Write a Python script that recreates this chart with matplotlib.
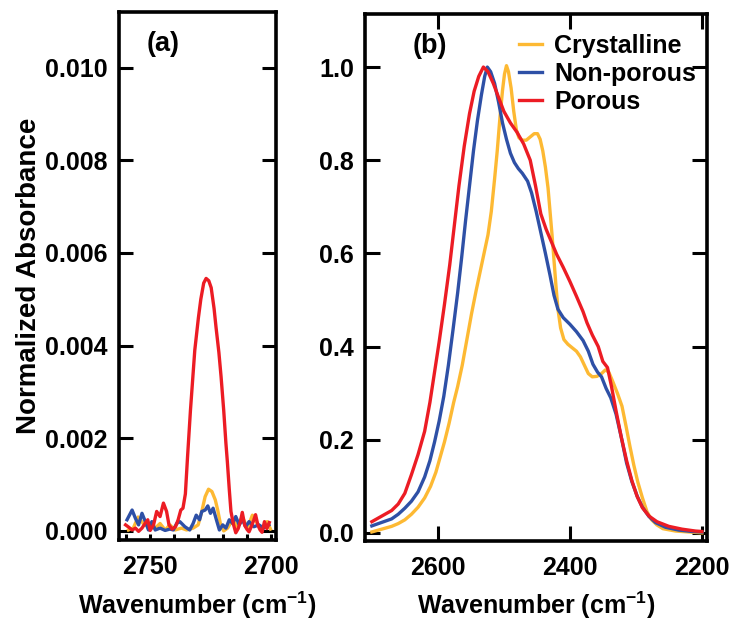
import numpy as np
import matplotlib
matplotlib.use("Agg")
import matplotlib.pyplot as plt
from matplotlib.ticker import MultipleLocator, FormatStrFormatter

plt.rcParams['font.family'] = ['Liberation Sans', 'DejaVu Sans']
plt.rcParams['font.weight'] = 'bold'
plt.rcParams['mathtext.fontset'] = 'custom'
plt.rcParams['mathtext.rm'] = 'Liberation Sans'

labels = ["Crystalline", "Non-porous", "Porous"]
colors = ["#FDB933", "#2E50A6", "#EC1C24"]

# (a) weak band near 2725 cm-1, absorbance in units of 1e-3
wn_a_cry = [2759.0, 2757.0, 2755.0, 2752.9, 2750.7, 2747.9, 2745.9, 2743.8, 2741.8,
            2739.7, 2737.0, 2734.9, 2732.2, 2730.1, 2728.6, 2727.2, 2725.8, 2724.4,
            2723.0, 2722.0, 2720.9, 2719.5, 2717.9, 2715.8, 2713.8, 2711.8, 2709.7,
            2707.6, 2705.6, 2703.6, 2701.5, 2700.1]
abs_a_cry = [0.02, 0.06, 0.30, 0.16, 0.09, 0.06, 0.16, 0.02, 0.13,
             0.02, 0.06, 0.02, 0.06, 0.13, 0.42, 0.74, 0.90, 0.85,
             0.67, 0.45, 0.16, 0.00, 0.06, 0.24, 0.09, 0.31, 0.06,
             0.34, 0.16, 0.02, 0.20, 0.04]

wn_a_non = [2759.6, 2757.5, 2756.1, 2754.8, 2753.4, 2752.0, 2750.7, 2749.3, 2747.9,
            2745.9, 2743.8, 2741.8, 2740.4, 2739.0, 2737.7, 2735.6, 2733.6, 2732.2,
            2730.9, 2729.5, 2728.6, 2727.2, 2726.1, 2725.0, 2723.9, 2722.7, 2721.3,
            2719.9, 2718.6, 2717.2, 2715.8, 2714.5, 2713.1, 2711.7, 2710.4, 2709.0,
            2707.0, 2704.9, 2702.9, 2700.8]
abs_a_non = [0.24, 0.45, 0.27, 0.13, 0.38, 0.20, 0.02, 0.20, 0.02,
             0.06, 0.01, 0.04, 0.02, 0.16, 0.20, 0.09, 0.02, 0.16,
             0.34, 0.24, 0.42, 0.45, 0.54, 0.38, 0.49, 0.27, 0.02,
             0.13, 0.06, 0.24, 0.16, 0.31, 0.13, 0.24, 0.09, 0.20,
             0.09, 0.13, 0.06, 0.13]

wn_a_por = [2760.2, 2758.9, 2757.5, 2756.1, 2754.8, 2753.4, 2752.0, 2751.0, 2750.0,
            2748.6, 2747.3, 2745.9, 2744.5, 2743.2, 2742.2, 2740.9, 2739.5, 2738.4,
            2737.3, 2736.4, 2735.4, 2734.5, 2733.3, 2731.5, 2730.0, 2729.0, 2727.8,
            2726.8, 2725.7, 2724.7, 2723.5, 2722.7, 2721.5, 2720.6, 2719.5, 2718.6,
            2718.0, 2717.2, 2716.5, 2715.5, 2714.5, 2713.5, 2712.6, 2711.8, 2710.8,
            2709.8, 2709.0, 2708.0, 2707.0, 2706.3, 2705.3, 2704.4, 2703.6, 2702.6,
            2701.6, 2700.6]
abs_a_por = [0.13, 0.08, 0.02, 0.06, -0.01, 0.06, 0.17, 0.24, 0.01,
             0.13, 0.42, 0.31, 0.60, 0.42, 0.13, 0.04, 0.09, 0.24,
             0.45, 0.49, 0.80, 1.60, 2.60, 3.90, 4.60, 5.00, 5.35,
             5.45, 5.40, 5.25, 4.80, 4.40, 3.85, 3.33, 2.60, 1.90,
             1.50, 0.90, 0.42, 0.15, -0.04, 0.05, 0.20, 0.40, 0.12,
             0.03, -0.02, 0.10, 0.24, 0.35, 0.12, 0.02, -0.03, 0.20,
             0.05, 0.18]

# (b) full O-D stretch band, normalized
wn_b_cry = [2700, 2690, 2680, 2670, 2660, 2650, 2640, 2630, 2620, 2611, 2603, 2596,
            2590, 2583, 2576, 2570, 2563, 2556, 2549, 2542, 2536, 2530, 2524, 2519,
            2514, 2510, 2506, 2502, 2499, 2496, 2493, 2489, 2485, 2481, 2477, 2472,
            2466, 2460, 2454, 2449, 2445, 2441, 2437, 2433, 2430, 2427, 2424, 2421,
            2418, 2414, 2409, 2403, 2397, 2390, 2384, 2378, 2372, 2366, 2359, 2352,
            2346, 2341, 2335, 2328, 2321, 2315, 2309, 2303, 2297, 2290, 2283, 2276,
            2268, 2259, 2240, 2220, 2200]
abs_b_cry = [0.002, 0.006, 0.010, 0.014, 0.020, 0.028, 0.040, 0.055, 0.075, 0.100, 0.130, 0.165,
             0.195, 0.235, 0.280, 0.314, 0.360, 0.415, 0.470, 0.520, 0.560, 0.600, 0.640, 0.690,
             0.760, 0.820, 0.890, 0.950, 0.985, 1.003, 0.990, 0.955, 0.905, 0.865, 0.848, 0.843,
             0.843, 0.850, 0.857, 0.857, 0.845, 0.820, 0.785, 0.740, 0.690, 0.640, 0.585, 0.530,
             0.480, 0.440, 0.415, 0.405, 0.398, 0.390, 0.378, 0.360, 0.342, 0.335, 0.336, 0.342,
             0.350, 0.345, 0.325, 0.300, 0.272, 0.230, 0.186, 0.145, 0.109, 0.075, 0.045, 0.028,
             0.017, 0.009, 0.004, 0.002, 0.000]

wn_b_non = [2700, 2690, 2680, 2670, 2660, 2650, 2640, 2630, 2620, 2612, 2605, 2598,
            2591, 2584, 2577, 2570, 2564, 2558, 2552, 2546, 2540, 2534, 2529, 2525,
            2520, 2514, 2508, 2502, 2496, 2490, 2484, 2478, 2472, 2464, 2458, 2451,
            2444, 2437, 2430, 2424, 2418, 2410, 2400, 2390, 2380, 2372, 2365, 2358,
            2352, 2345, 2338, 2330, 2322, 2314, 2306, 2298, 2290, 2280, 2270, 2255,
            2235, 2215, 2200]
abs_b_non = [0.015, 0.020, 0.025, 0.030, 0.040, 0.053, 0.068, 0.088, 0.120, 0.155, 0.195, 0.240,
             0.293, 0.360, 0.436, 0.515, 0.590, 0.670, 0.745, 0.820, 0.885, 0.940, 0.980, 1.000,
             0.990, 0.965, 0.925, 0.880, 0.845, 0.815, 0.795, 0.782, 0.772, 0.755, 0.730, 0.690,
             0.645, 0.600, 0.553, 0.510, 0.480, 0.462, 0.448, 0.432, 0.413, 0.390, 0.362, 0.345,
             0.335, 0.310, 0.290, 0.255, 0.205, 0.150, 0.110, 0.079, 0.055, 0.035, 0.022, 0.012,
             0.006, 0.003, 0.002]

wn_b_por = [2700, 2690, 2680, 2670, 2660, 2650, 2640, 2630, 2620, 2612, 2605, 2598,
            2590, 2582, 2575, 2568, 2560, 2552, 2545, 2538, 2531, 2524, 2516, 2508,
            2500, 2490, 2480, 2470, 2460, 2452, 2444, 2436, 2428, 2420, 2410, 2400,
            2390, 2380, 2374, 2366, 2357, 2350, 2343, 2337, 2330, 2322, 2314, 2306,
            2298, 2290, 2280, 2268, 2250, 2230, 2210, 2200]
abs_b_por = [0.024, 0.032, 0.040, 0.048, 0.062, 0.085, 0.125, 0.168, 0.218, 0.280, 0.345, 0.410,
             0.490, 0.575, 0.660, 0.745, 0.830, 0.900, 0.948, 0.980, 1.000, 0.990, 0.965, 0.935,
             0.905, 0.880, 0.860, 0.835, 0.800, 0.745, 0.685, 0.652, 0.625, 0.598, 0.570, 0.540,
             0.508, 0.475, 0.451, 0.425, 0.400, 0.368, 0.355, 0.315, 0.262, 0.205, 0.155, 0.112,
             0.078, 0.054, 0.036, 0.024, 0.014, 0.008, 0.004, 0.003]

FS = 18
LW = 2.4

fig = plt.figure(figsize=(7.29, 6.34), dpi=100)
ax1 = fig.add_axes([0.163, 0.148, 0.215, 0.833])
ax2 = fig.add_axes([0.501, 0.147, 0.469, 0.831])

data_a = [(wn_a_cry, abs_a_cry), (wn_a_non, abs_a_non), (wn_a_por, abs_a_por)]
for (w, a), c in zip(data_a, colors):
    ax1.plot(w, np.array(a) * 1e-3, color=c, lw=LW)

data_b = [(wn_b_cry, abs_b_cry), (wn_b_non, abs_b_non), (wn_b_por, abs_b_por)]
for (w, a), c, lab in zip(data_b, colors, labels):
    ax2.plot(w, a, color=c, lw=LW, label=lab)

ax1.set_xlim(2763, 2698)
ax1.set_ylim(-0.0002, 0.0112)
ax1.set_xticks([2750, 2700])
ax1.xaxis.set_minor_locator(MultipleLocator(10))
ax1.set_yticks(np.arange(0, 0.0101, 0.002))
ax1.yaxis.set_major_formatter(FormatStrFormatter('%.3f'))
ax1.tick_params(axis='x', which='both', direction='in', length=4, width=2.2,
                top=False, labelsize=FS, pad=11)
ax1.tick_params(axis='y', which='major', direction='in', length=10, width=2.2,
                right=True, labelsize=FS, pad=8)

ax2.set_xlim(2710, 2192)
ax2.set_ylim(-0.017, 1.114)
ax2.set_xticks([2600, 2400, 2200])
ax2.set_yticks(np.arange(0, 1.01, 0.2))
ax2.yaxis.set_major_formatter(FormatStrFormatter('%.1f'))
ax2.tick_params(axis='x', direction='in', length=11, width=2.2, top=True,
                labelsize=FS, pad=11)
ax2.tick_params(axis='y', direction='in', length=11, width=2.2, right=True,
                labelsize=FS, pad=8)

for ax in (ax1, ax2):
    for s in ax.spines.values():
        s.set_linewidth(2.6)
    for t in ax.get_xticklabels() + ax.get_yticklabels():
        t.set_fontweight('bold')
    ax.set_xlabel('Wavenumber (cm$^{-1}$)', fontsize=18, fontweight='bold', labelpad=7)

ax1.set_ylabel('Normalized Absorbance', fontsize=20, fontweight='bold', labelpad=2)

ax1.text(0.28, 0.94, '(a)', transform=ax1.transAxes, fontsize=19.5,
         fontweight='bold', ha='center', va='center')
ax2.text(0.19, 0.94, '(b)', transform=ax2.transAxes, fontsize=19.5,
         fontweight='bold', ha='center', va='center')

ax2.legend(loc='upper left', bbox_to_anchor=(0.40, 0.995), frameon=False,
           prop={'size': FS, 'weight': 'bold'}, handlelength=0.9,
           handletextpad=0.5, labelspacing=0.15, borderpad=0.2)

fig.savefig('out.png', dpi=100)
